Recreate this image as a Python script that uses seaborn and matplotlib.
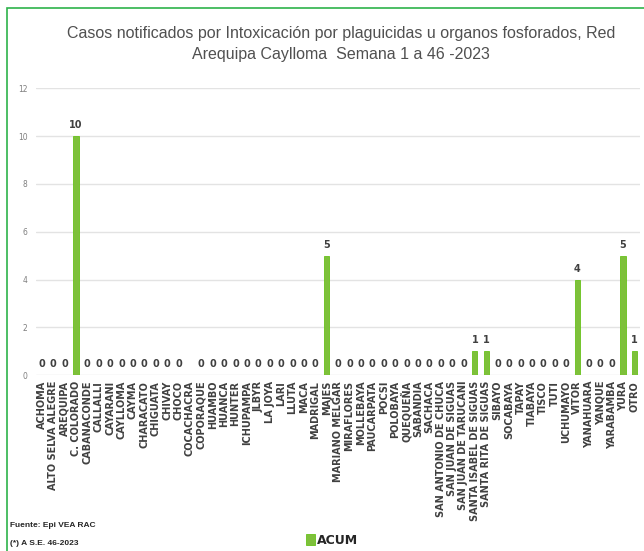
import numpy as np
import pandas as pd
import matplotlib.pyplot as plt
import seaborn as sns
from matplotlib.patches import Rectangle

# Data
distritos = [
    "ACHOMA", "ALTO SELVA ALEGRE", "AREQUIPA", "C. COLORADO", "CABANACONDE",
    "CALLALLI", "CAYARANI", "CAYLLOMA", "CAYMA", "CHARACATO", "CHIGUATA",
    "CHIVAY", "CHOCO", "COCACHACRA", "COPORAQUE", "HUAMBO", "HUANCA", "HUNTER",
    "ICHUPAMPA", "JLBYR", "LA JOYA", "LARI", "LLUTA", "MACA", "MADRIGAL",
    "MAJES", "MARIANO MELGAR", "MIRAFLORES", "MOLLEBAYA", "PAUCARPATA",
    "POCSI", "POLOBAYA", "QUEQUEÑA", "SABANDIA", "SACHACA",
    "SAN ANTONIO DE CHUCA", "SAN JUAN DE SIGUAS", "SAN JUAN DE TARUCANI",
    "SANTA ISABEL DE SIGUAS", "SANTA RITA DE SIGUAS", "SIBAYO", "SOCABAYA",
    "TAPAY", "TIABAYA", "TISCO", "TUTI", "UCHUMAYO", "VITOR", "YANAHUARA",
    "YANQUE", "YARABAMBA", "YURA", "OTRO",
]
acum = [
    0, 0, 0, 10, 0,
    0, 0, 0, 0, 0, 0,
    0, 0, np.nan, 0, 0, 0, 0,
    0, 0, 0, 0, 0, 0, 0,
    5, 0, 0, 0, 0,
    0, 0, 0, 0, 0,
    0, 0, 0,
    1, 1, 0, 0,
    0, 0, 0, 0, 0, 4, 0,
    0, 0, 5, 1,
]
y_ticks = [0, 2, 4, 6, 8, 10, 12]

df = pd.DataFrame({"distrito": distritos, "ACUM": acum})

sns.set_style("white")
plt.rcParams['font.family'] = ['DejaVu Sans']
narrow = ['Liberation Sans', 'DejaVu Sans']

fig = plt.figure(figsize=(6.44, 5.51), dpi=100)
ax = fig.add_axes([0.056, 0.319, 0.938, 0.521])

green = '#7ED625'
sns.barplot(data=df, x='distrito', y='ACUM', color=green, width=0.45,
            edgecolor='#67C21A', linewidth=0.6, ax=ax, label='ACUM')

# value labels
for i, v in enumerate(acum):
    if np.isnan(v):
        continue
    ax.text(i, v + 0.25, f"{int(v)}", ha='center', va='bottom',
            fontsize=7, fontweight='bold', color='#404040')

ax.set_ylim(0, 12)
ax.set_yticks(y_ticks)
ax.set_xlim(-0.5, len(distritos) - 0.5)
ax.yaxis.grid(True, color='#E3E3E3', linewidth=1)
ax.set_axisbelow(True)
ax.tick_params(axis='y', labelsize=5.5, colors='#7F7F7F', length=0, pad=6)
ax.tick_params(axis='x', length=0, pad=4)
ax.set_xticks(range(len(distritos)))
ax.set_xticklabels(distritos, rotation=90, fontsize=7, fontweight='bold',
                   color='#404040')
ax.set_xlabel('')
ax.set_ylabel('')
for s in ax.spines.values():
    s.set_visible(False)

# title
fig.text(0.53, 0.952, "Casos notificados por Intoxicación por plaguicidas u organos fosforados, Red\nArequipa Caylloma  Semana 1 a 46 -2023",
         ha='center', va='top', fontsize=11.5, color='#505050',
         family=narrow, linespacing=1.45)

# legend
ax.legend(loc='center', bbox_to_anchor=(0.49, -0.575), frameon=False,
          handlelength=0.7, handleheight=0.9, handletextpad=0.2,
          prop={'weight': 'bold', 'size': 9})

# footer
fig.text(0.016, 0.043, "Fuente: Epi VEA RAC", fontsize=6, fontweight='bold',
         color='#262626', family=narrow)
fig.text(0.016, 0.01, "(*) A S.E. 46-2023", fontsize=6, fontweight='bold',
         color='#262626', family=narrow)

# green frame
fig.patches.append(Rectangle((0.011, -0.01), 1.0, 0.995, transform=fig.transFigure,
                             fill=False, edgecolor='#2EB34A', linewidth=1.2))

fig.savefig('out.png', dpi=100)
